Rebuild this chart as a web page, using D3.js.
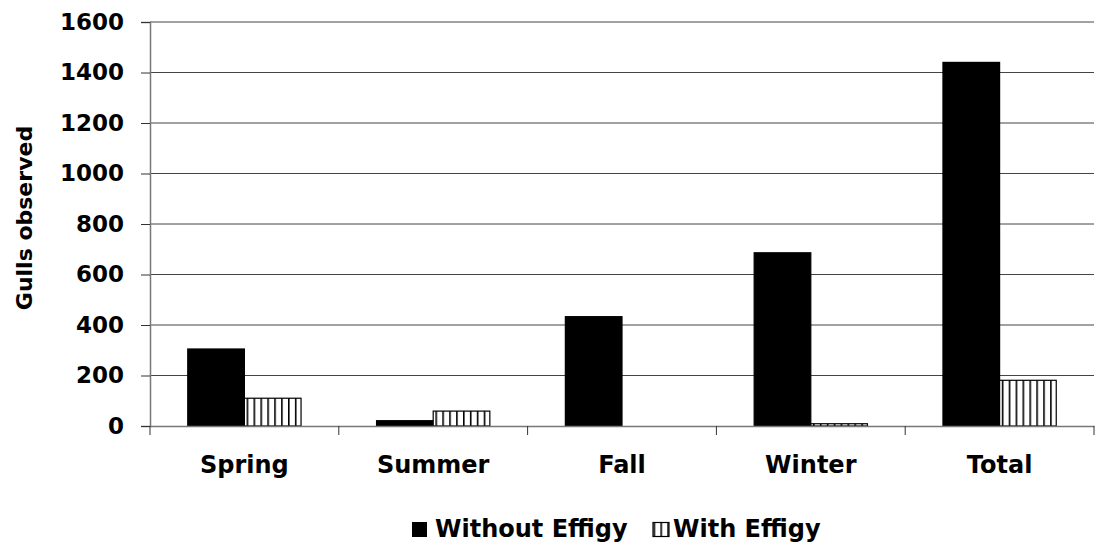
<!DOCTYPE html>
<html>
<head>
<meta charset="utf-8">
<script src="https://cdn.jsdelivr.net/npm/d3@7"></script>
<style>
  body { margin: 0; background: #fff; }
  text { font-family: "DejaVu Sans", sans-serif; font-weight: bold; fill: #000; }
</style>
</head>
<body>
<script>
const seasons = ['Spring', 'Summer', 'Fall', 'Winter', 'Total'];
const seriesNames = ['Without Effigy', 'With Effigy'];
const withoutEffigy = [305, 21, 433, 686, 1440];
const withEffigy = [110, 59, 0, 9, 181];
const yTicks = [0, 200, 400, 600, 800, 1000, 1200, 1400, 1600];

const width = 1095, height = 550;
const margin = {top: 22, right: 1, bottom: 124, left: 150};
const labelFont = '"DejaVu Sans", sans-serif';

const svg = d3.select('body')
              .append('svg')
              .attr('width', width)
              .attr('height', height);

// hatch pattern for the "with effigy" bars
const defs = svg.append('defs');
const pattern = defs.append('pattern')
    .attr('id', 'hatch')
    .attr('patternUnits', 'userSpaceOnUse')
    .attr('width', 6.9)
    .attr('height', 10);
pattern.append('rect').attr('width', 6.9).attr('height', 10).attr('fill', '#fff');
pattern.append('line')
    .attr('x1', 0.8).attr('x2', 0.8).attr('y1', 0).attr('y2', 10)
    .attr('stroke', '#000').attr('stroke-width', 1.6);

const x = d3.scaleBand()
    .domain(seasons)
    .range([margin.left, width - margin.right])
    .paddingInner(0)
    .paddingOuter(0);

const xSub = d3.scaleBand()
    .domain(seriesNames)
    .range([x.bandwidth() * 0.2, x.bandwidth() * 0.8]);

const y = d3.scaleLinear()
    .domain([0, 1600])
    .range([height - margin.bottom, margin.top]);

// gridlines
svg.append('g')
    .selectAll('line')
    .data(yTicks.filter(d => d > 0))
    .enter()
    .append('line')
    .attr('x1', margin.left)
    .attr('x2', width - margin.right)
    .attr('y1', d => y(d))
    .attr('y2', d => y(d))
    .attr('stroke', '#444')
    .attr('stroke-width', 1);

// y axis
const yAxis = svg.append('g')
    .attr('transform', `translate(${margin.left},0)`)
    .call(d3.axisLeft(y).tickValues(yTicks).tickFormat(d3.format('d')).tickSize(9).tickPadding(17));
yAxis.select('.domain').attr('stroke', '#777').attr('stroke-width', 1.5);
yAxis.selectAll('.tick line').attr('stroke', '#333');
yAxis.selectAll('.tick text')
    .style('font-size', '23px')
    .style('font-family', labelFont)
    .style('font-weight', 'bold');

// bars
const data = seasons.map((s, i) => ({season: s, values: [withoutEffigy[i], withEffigy[i]]}));
const groups = svg.append('g')
    .selectAll('g')
    .data(data)
    .enter()
    .append('g')
    .attr('transform', d => `translate(${x(d.season)},0)`);

groups.selectAll('rect')
    .data(d => d.values.map((v, j) => ({name: seriesNames[j], value: v})))
    .enter()
    .filter(d => d.value > 0)
    .append('rect')
    .attr('x', d => xSub(d.name))
    .attr('width', xSub.bandwidth())
    .attr('y', d => y(d.value))
    .attr('height', d => y(0) - y(d.value))
    .attr('fill', d => d.name === 'Without Effigy' ? '#000' : 'url(#hatch)')
    .attr('stroke', '#000')
    .attr('stroke-width', 1.2);

// x axis
const xAxis = svg.append('g')
    .attr('transform', `translate(0,${y(0)})`)
    .call(d3.axisBottom(x).tickSize(0).tickPadding(30));
xAxis.select('.domain').attr('stroke', '#777').attr('stroke-width', 1.5);
xAxis.selectAll('.tick text')
    .style('font-size', '24px')
    .style('font-family', labelFont)
    .style('font-weight', 'bold');
// category boundary ticks
svg.append('g')
    .selectAll('line')
    .data(seasons.concat(['end']))
    .enter()
    .append('line')
    .attr('x1', (d, i) => margin.left + i * x.step())
    .attr('x2', (d, i) => margin.left + i * x.step())
    .attr('y1', y(0))
    .attr('y2', y(0) + 9)
    .attr('stroke', '#333');

// y axis title
svg.append('text')
    .attr('transform', `translate(32,${(y(0) + y(1600)) / 2 - 6}) rotate(-90)`)
    .attr('text-anchor', 'middle')
    .style('font-size', '22px')
    .text('Gulls observed');

// legend
const legend = svg.append('g').attr('transform', 'translate(412,522)');
legend.append('rect')
    .attr('x', 0).attr('y', 0).attr('width', 15).attr('height', 15)
    .attr('fill', '#000');
legend.append('text')
    .attr('x', 23).attr('y', 15)
    .style('font-size', '24px')
    .text(seriesNames[0]);
legend.append('rect')
    .attr('x', 241).attr('y', 0.5).attr('width', 16).attr('height', 14)
    .attr('fill', 'url(#hatch)')
    .attr('stroke', '#000')
    .attr('stroke-width', 1.2);
legend.append('text')
    .attr('x', 261).attr('y', 15)
    .style('font-size', '24px')
    .text(seriesNames[1]);
</script>
</body>
</html>
